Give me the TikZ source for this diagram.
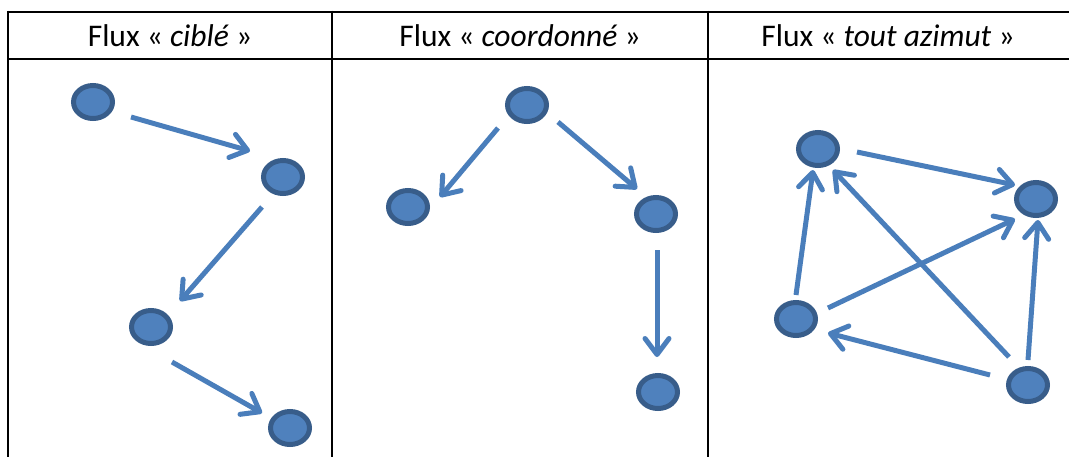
\documentclass[tikz,border=0pt]{standalone}
\usepackage{fontspec}
\setmainfont{Carlito}
\usetikzlibrary{arrows.meta,shapes.geometric}
\definecolor{nodefill}{HTML}{4F81BD}
\definecolor{nodeline}{HTML}{385D8A}
\definecolor{arrowcol}{HTML}{4A7EBB}
\begin{document}
\begin{tikzpicture}[x=1pt,y=-1pt,
  dot/.style={ellipse,draw=nodeline,fill=nodefill,line width=5pt,minimum width=39pt,minimum height=33pt,inner sep=0pt},
  arr/.style={draw=arrowcol,line width=5pt,-{Straight Barb[length=16pt,width=24pt,round]}},
  grid/.style={line width=2.6pt,black},
  head/.style={font=\fontsize{31.5}{36}\selectfont,inner sep=0pt,anchor=center}]
\useasboundingbox (0,0) rectangle (1069,456);
% table
\draw[grid] (8,12) -- (1072,12);
\draw[grid] (8,59) -- (1072,59);
\draw[grid] (8,10.7) -- (8,460);
\draw[grid] (332,10.7) -- (332,460);
\draw[grid] (708,10.7) -- (708,460);
\node[head] (h1) at (170,36) {Flux « \textit{ciblé} »};
\node[head] (h2) at (520,36) {Flux « \textit{coordonné} »};
\node[head] (h3) at (888,36) {Flux « \textit{tout azimut} »};
% panel 1
\node[dot] (A1) at (93,102) {};
\node[dot] (A2) at (283,177) {};
\node[dot] (A3) at (151,327) {};
\node[dot] (A4) at (290,428) {};
\draw[arr] ([shift={(38,15)}]A1.center) -- ([shift={(-33,-26)}]A2.center);
\draw[arr] ([shift={(-21,30)}]A2.center) -- ([shift={(29,-26)}]A3.center);
\draw[arr] ([shift={(21,35)}]A3.center) -- ([shift={(-28,-15)}]A4.center);
% panel 2
\node[dot] (B1) at (527,105) {};
\node[dot] (B2) at (408,207) {};
\node[dot] (B3) at (656,214) {};
\node[dot] (B4) at (658,392) {};
\draw[arr] ([shift={(-29,23)}]B1.center) -- ([shift={(32,-10)}]B2.center);
\draw[arr] ([shift={(31,17)}]B1.center) -- ([shift={(-19,-25)}]B3.center);
\draw[arr] ([shift={(1,36)}]B3.center) -- ([shift={(-1,-35)}]B4.center);
% panel 3
\node[dot] (C1) at (818,149) {};
\node[dot] (C2) at (1036,199) {};
\node[dot] (C3) at (796,319) {};
\node[dot] (C4) at (1028,385) {};
\draw[arr] ([shift={(39,3)}]C1.center) -- ([shift={(-21,-14)}]C2.center);
\draw[arr] ([shift={(0,-24)}]C3.center) -- ([shift={(-5,21)}]C1.center);
\draw[arr] ([shift={(32,-11)}]C3.center) -- ([shift={(-21,20)}]C2.center);
\draw[arr] ([shift={(-19,-28)}]C4.center) -- ([shift={(15,21)}]C1.center);
\draw[arr] ([shift={(0,-25)}]C4.center) -- ([shift={(2,21)}]C2.center);
\draw[arr] ([shift={(-38,-10)}]C4.center) -- ([shift={(32,14)}]C3.center);
\end{tikzpicture}
\end{document}
